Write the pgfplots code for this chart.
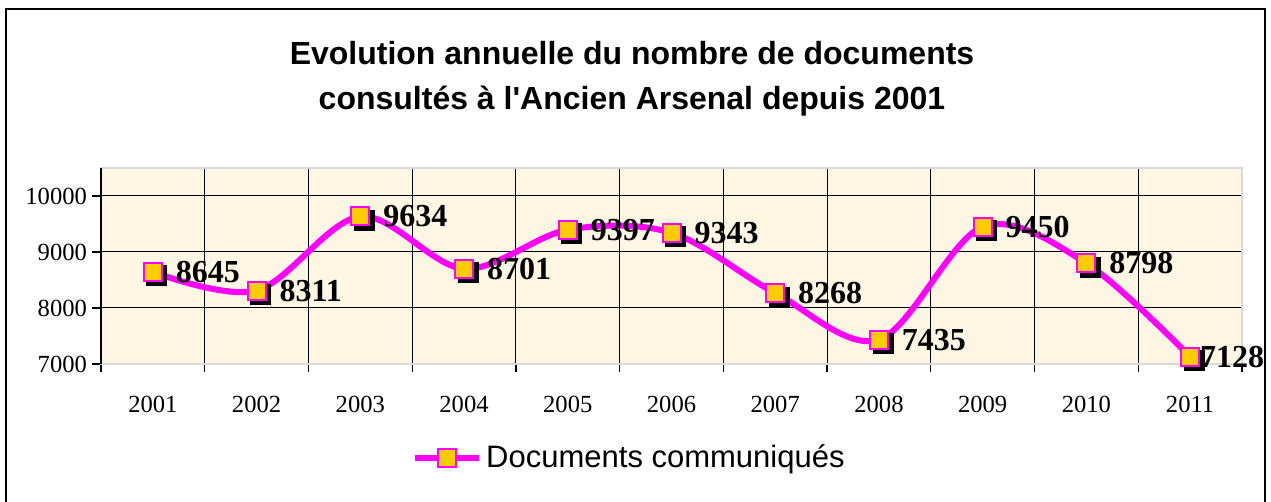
\documentclass[border=0pt]{standalone}
\usepackage{pgfplots}
\pgfplotsset{compat=1.18}
\usepackage{fontspec}
\setmainfont{Liberation Serif}
\newfontfamily\arial{Liberation Sans}

\definecolor{lineMag}{RGB}{255,0,255}
\definecolor{markGold}{RGB}{255,204,0}
\definecolor{paper}{RGB}{252,246,226}

% dx: how far the value label sits right of its point (pt)
\pgfplotstableread{
x year val dx
0 2001 8645 11
1 2002 8311 11
2 2003 9634 11
3 2004 8701 11
4 2005 9397 11
5 2006 9343 11
6 2007 8268 11
7 2008 7435 11
8 2009 9450 11
9 2010 8798 11
10 2011 7128 4.5
}\docs

\begin{document}
\begin{tikzpicture}
\useasboundingbox (0,0) rectangle (635.5pt,251pt);
% outer frame, its bottom runs off the page
\draw[black, line width=1pt] (3pt,-10pt) -- (3pt,246.5pt) -- (632.5pt,246.5pt) -- (632.5pt,-10pt);

\node[align=center, font=\arial\bfseries\fontsize{16}{22.5}\selectfont] at (316pt,211.5pt)
  {Evolution annuelle du nombre de documents\\consultés à l'Ancien Arsenal depuis 2001};

\begin{axis}[
    at={(50.5pt,69pt)}, anchor=south west,
    scale only axis,
    width=570.5pt, height=98pt,
    xmin=-0.5, xmax=10.5,
    ymin=7000, ymax=10500,
    xtick={0,...,10},
    xticklabels={2001,2002,2003,2004,2005,2006,2007,2008,2009,2010,2011},
    minor xtick={-0.5,0.5,...,10.5},
    ytick={7000,8000,9000,10000},
    xtick pos=bottom, ytick pos=left,
    every major x tick/.append style={draw=none},
    tick align=outside,
    major tick length=4.5pt,
    minor tick length=4pt,
    tick style={black, line width=0.6pt},
    xminorgrids=true, ymajorgrids=true,
    grid style={black, line width=0.5pt},
    minor grid style={black, line width=0.5pt},
    axis line style={gray!30, line width=0.8pt},
    axis background/.style={fill=paper},
    scaled y ticks=false,
    /pgf/number format/1000 sep={},
    /pgf/number format/assume math mode=true,
    tick label style={font=\fontsize{12.3}{14}\selectfont},
    yticklabel style={xshift=1pt},
    xticklabel style={yshift=-8pt},
    clip=false,
    legend style={at={(0.464,-0.48)}, anchor=center, draw=none, fill=none,
        font=\arial\fontsize{15.5}{18}\selectfont, inner sep=0pt},
    legend image code/.code={
        \draw[mark repeat=2, mark phase=2, #1]
        plot coordinates {(0pt,0pt) (16pt,0pt) (32pt,0pt)};},
]
% shadow of the markers
\addplot[only marks, mark=square*, mark size=5pt,
    mark options={fill=black, draw=black, xshift=2pt, yshift=-2pt},
    forget plot] table[x=x, y=val] {\docs};
\addplot[lineMag, line width=3pt, smooth, tension=0.55,
    mark=square*, mark size=4.5pt,
    mark options={fill=markGold, draw=lineMag, line width=1pt},
    visualization depends on={\thisrow{dx} \as \labdx},
    nodes near coords,
    every node near coord/.style={anchor=west, inner sep=0pt, xshift=\labdx pt,
        text=black, font=\bfseries\fontsize{16}{18}\selectfont},
    ] table[x=x, y=val] {\docs};
\addlegendentry{Documents communiqués}
\draw[black, line width=1.2pt] (rel axis cs:0,0) -- (rel axis cs:0,1);
\end{axis}
\end{tikzpicture}
\end{document}
